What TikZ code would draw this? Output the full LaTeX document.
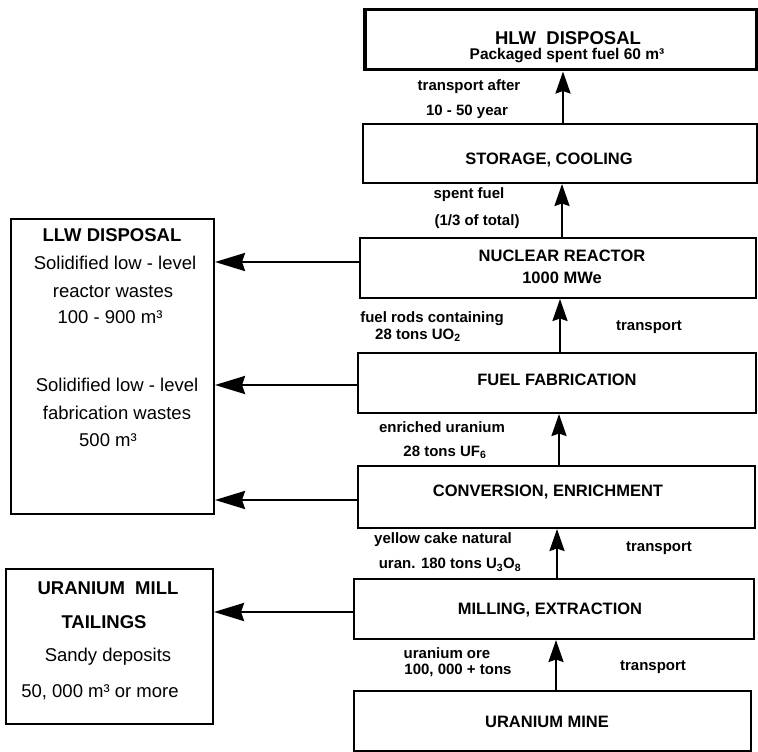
\documentclass[tikz,border=0pt]{standalone}
\usepackage{fontspec}
\setmainfont{Liberation Sans}
\usetikzlibrary{arrows.meta}
\begin{document}
\begin{tikzpicture}[x=1pt,y=-1pt,
  box/.style={draw, line width=2pt, inner sep=0pt, anchor=north west},
  ttl/.style={font=\bfseries\fontsize{16.5}{19}\selectfont, inner sep=0pt},
  lbl/.style={font=\bfseries\fontsize{15}{17}\selectfont, inner sep=0pt},
  ltxt/.style={font=\fontsize{18.5}{22}\selectfont, inner sep=0pt},
  ltitle/.style={font=\bfseries\fontsize{18.5}{22}\selectfont, inner sep=0pt},
  harrow/.style={line width=2.6pt, -{Stealth[length=30pt,width=18pt,inset=3pt]}},
  varrow/.style={line width=2.4pt, -{Stealth[length=22pt,width=15pt,inset=2.5pt]}}]
\useasboundingbox (0,0) rectangle (758,752);
% right column boxes
\node[box, line width=3.5pt, minimum width=392pt, minimum height=60pt] (hlw) at (363,8) {};
\node[box, minimum width=394pt, minimum height=59pt] (storage) at (362,123) {};
\node[box, minimum width=396pt, minimum height=60pt] (reactor) at (359,237) {};
\node[box, minimum width=398pt, minimum height=60pt] (fab) at (357,352) {};
\node[box, minimum width=397pt, minimum height=62pt] (conv) at (357,465) {};
\node[box, minimum width=400pt, minimum height=60pt] (mill) at (353,578) {};
\node[box, minimum width=397pt, minimum height=60pt] (mine) at (353,690) {};
% left boxes
\node[box, minimum width=203pt, minimum height=295pt] (llw) at (10,218) {};
\node[box, minimum width=207pt, minimum height=155pt] (tail) at (5,568) {};
% box texts
\node[ltitle] (thlw1) at (568,38) {HLW\ \ DISPOSAL};
\node[font=\bfseries\fontsize{15.5}{17}\selectfont, inner sep=0pt] (thlw2) at (567,56) {Packaged spent fuel 60 m³};
\node[ttl] (tstor) at (549,160) {STORAGE, COOLING};
\node[ttl] (treac1) at (562,256) {NUCLEAR REACTOR};
\node[ttl] (treac2) at (562,278) {1000 MWe};
\node[ttl] (tfab) at (557,380) {FUEL FABRICATION};
\node[ttl] (tconv) at (548,492) {CONVERSION, ENRICHMENT};
\node[ttl] (tmill) at (550,610) {MILLING, EXTRACTION};
\node[ttl] (tmine) at (547,722) {URANIUM MINE};
% left texts
\node[ltitle] (tl1) at (112,235) {LLW DISPOSAL};
\node[ltxt] (tl2) at (115,263) {Solidified low - level};
\node[ltxt] (tl3) at (113,292) {reactor wastes};
\node[ltxt] (tl4) at (110,317) {100 - 900 m³};
\node[ltxt] (tl5) at (117,385) {Solidified low - level};
\node[ltxt] (tl6) at (117,413) {fabrication wastes};
\node[ltxt] (tl7) at (108,440) {500 m³};
\node[ltitle] (tt1) at (108,588) {URANIUM\ \ MILL};
\node[ltitle] (tt2) at (104,622) {TAILINGS};
\node[ltxt] (tt3) at (108,657) {Sandy deposits};
\node[ltxt] (tt4) at (100,692) {50, 000 m³ or more};
% connector labels
\node[lbl] (a1) at (469,87) {transport after};
\node[lbl] (a2) at (467,112) {10 - 50 year};
\node[lbl] (b1) at (469,195) {spent fuel};
\node[lbl] (b2) at (477,222) {(1/3 of total)};
\node[lbl] (c1) at (432,319) {fuel rods containing};
\node[lbl] (c2) at (418,335) {28 tons UO\textsubscript{2}};
\node[lbl] (c3) at (649,327) {transport};
\node[lbl] (d1) at (442,427) {enriched uranium};
\node[lbl] (d2) at (445,452) {28 tons UF\textsubscript{6}};
\node[lbl] (e1) at (443,540) {yellow cake natural};
\node[lbl] (e2) at (450,565) {uran. 180 tons U\textsubscript{3}O\textsubscript{8}};
\node[lbl] (e3) at (659,548) {transport};
\node[lbl] (f1) at (447,653) {uranium ore};
\node[lbl] (f2) at (458,670) {100, 000 + tons};
\node[lbl] (f3) at (653,667) {transport};
% guide coordinates
\coordinate (v1) at (563,0);
\coordinate (v2) at (562,0);
\coordinate (v3) at (560,0);
\coordinate (v4) at (559,0);
\coordinate (v5) at (557,0);
\coordinate (v6) at (556,0);
\coordinate (h1) at (0,262);
\coordinate (h2) at (0,385);
\coordinate (h3) at (0,500);
\coordinate (h4) at (0,612);
% vertical arrows
\draw[varrow] (storage.north -| v1) -- (hlw.south -| v1);
\draw[varrow] (reactor.north -| v2) -- (storage.south -| v2);
\draw[varrow] (fab.north -| v3) -- (reactor.south -| v3);
\draw[varrow] (conv.north -| v4) -- (fab.south -| v4);
\draw[varrow] (mill.north -| v5) -- (conv.south -| v5);
\draw[varrow] (mine.north -| v6) -- (mill.south -| v6);
% horizontal arrows
\draw[harrow] (reactor.west |- h1) -- (llw.east |- h1);
\draw[harrow] (fab.west |- h2) -- (llw.east |- h2);
\draw[harrow] (conv.west |- h3) -- (llw.east |- h3);
\draw[harrow] (mill.west |- h4) -- (tail.east |- h4);
\end{tikzpicture}
\end{document}
